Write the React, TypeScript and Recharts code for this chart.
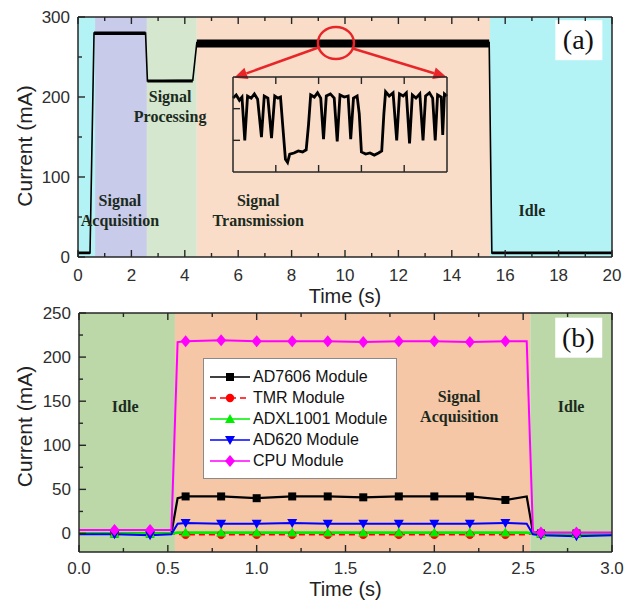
import React from 'react';
import {
  ComposedChart,
  LineChart,
  Line,
  Area,
  XAxis,
  YAxis,
  ReferenceArea,
  ReferenceDot,
  ReferenceLine,
  Legend,
} from 'recharts';

// ---------- panel (a): supply current of the node over one cycle ----------
// null = break between two levels (the trace jumps, the ripple band does not)
const aTime = [0, 0.45, 0.5, 0.6, 2.53, 2.56, 2.6, 4.3, 4.4, 4.45, 15.4, 15.45, 15.5, 20];
const aCurrent = [5, 5, null, 280, 280, null, 220, 221, null, 268, 268, null, 5, 5];
const aRippleLow = [3.5, 3.5, null, 277.5, 277.5, null, 218, 218, null, 262, 262, null, 3.5, 3.5];
const aRippleHigh = [7, 7, null, 282, 282, null, 222, 222, null, 272, 272, null, 7, 7];

const aPhaseStart = [0, 0.64, 2.58, 4.45, 15.43];
const aPhaseEnd = [0.64, 2.58, 4.45, 15.43, 20];

const aPhaseText = [
  { t: 1.57, i: 58, lines: ['Signal', 'Acquisition'] },
  { t: 3.45, i: 187, lines: ['Signal', 'Processing'] },
  { t: 6.75, i: 58, lines: ['Signal', 'Transmission'] },
  { t: 17.0, i: 58, lines: ['Idle'] },
];

const aXTicks = [0, 1, 2, 3, 4, 5, 6, 7, 8, 9, 10, 11, 12, 13, 14, 15, 16, 17, 18, 19, 20];
const aYTicks = [0, 50, 100, 150, 200, 250, 300];
const rightTicks = [1, 2, 3, 4, 5, 6, 7, 8, 9];

// zoomed view of the transmission ripple (arbitrary units)
const insetX = [
  0, 1.5, 3, 4.2, 5.5, 6.8, 8.5, 10, 11.5, 13.3, 14.6, 16.3, 18, 19.5, 21, 22.2, 23.2, 24.5, 25.5,
  26.5, 28.5, 30.5, 32.5, 34.2, 35.3, 36.3, 38, 39.5, 41, 42.3, 43.6, 45.5, 47.3, 48.7, 50, 52, 53.8,
  55, 56.3, 58, 59, 60, 62, 64, 66, 68, 69.5, 70.5, 71.3, 73, 74.8, 76.5, 77.8, 79.5, 81, 82.5, 83.8,
  85.5, 87.3, 88.8, 90, 91.8, 93.3, 94.5, 95.6, 97.3, 98, 98.8, 100,
];
const insetY = [
  70, 73, 68, 71, 30, 72, 70, 74, 69, 33, 72, 70, 32, 72, 70, 71, 45, 12, 9,
  17, 18, 20, 19, 21, 45, 73, 71, 75, 70, 31, 72, 74, 70, 29, 73, 71, 72,
  31, 70, 72, 55, 19, 17, 18, 16, 18, 20, 55, 76, 72, 75, 30, 74, 72, 75, 27, 73,
  70, 74, 30, 72, 75, 70, 30, 73, 71, 35, 74, 72,
];
const insetXTicks = [20, 40, 60, 80];
const insetLeftTicks = [30, 60];
const insetRightTicks = [10, 20, 30, 40, 50, 60, 70, 80];

// ---------- panel (b): current of each module ----------
const bTime = [0, 0.2, 0.4, 0.52, 0.555, 0.6, 0.8, 1.0, 1.2, 1.4, 1.6, 1.8, 2.0, 2.2, 2.4, 2.52, 2.555, 2.6, 2.8, 3.0];
const ad7606 = [0, 0, 0, 0, 40, 42, 42, 40, 42, 42, 41, 42, 42, 42, 38, 42, 1, 0, 0, 0];
const tmr = [0, 0, 0, 0, -1, -1.5, -1.5, -1.5, -1.5, -1.5, -1.5, -1.5, -1.5, -1.5, -1.5, -1.5, 0, 0, 0, 0];
const adxl1001 = [0, 0, 0, 0, 1, 1, 1, 1, 1, 1, 1, 1, 1, 1, 1, 1, 0, 0, 0, 0];
const ad620 = [-1, -1, -2, -1, 11, 12, 11, 11, 12, 11, 11, 11, 11, 11, 12, 11, -1, -2, -3, -2];
const cpu = [4, 4, 4, 4, 217, 218, 219, 218, 218, 218, 217, 218, 218, 217, 218, 218, 2, 1, 1, 1];
const bMarkerTimes = [0.2, 0.4, 0.6, 0.8, 1.0, 1.2, 1.4, 1.6, 1.8, 2.0, 2.2, 2.4, 2.6, 2.8];

const bSeries = [
  { key: 'ad7606', name: 'AD7606 Module', values: ad7606 },
  { key: 'tmr', name: 'TMR Module', values: tmr },
  { key: 'adxl', name: 'ADXL1001 Module', values: adxl1001 },
  { key: 'ad620', name: 'AD620 Module', values: ad620 },
  { key: 'cpu', name: 'CPU Module', values: cpu },
];

const bPhaseStart = [0, 0.54, 2.54];
const bPhaseEnd = [0.54, 2.54, 3];

const bPhaseText = [
  { t: 0.26, i: 143.5, lines: ['Idle'] },
  { t: 2.14, i: 143.5, lines: ['Signal', 'Acquisition'] },
  { t: 2.77, i: 143.5, lines: ['Idle'] },
];

const bXTicks = [0, 0.25, 0.5, 0.75, 1, 1.25, 1.5, 1.75, 2, 2.25, 2.5, 2.75, 3];
const bYTicks = [0, 25, 50, 75, 100, 125, 150, 175, 200, 225, 250];

// ---------- styles ----------
const AX = '#262626';
const RED = '#e8262a';
const SANS = '"Liberation Sans", Arial, sans-serif';
const SERIF = '"Liberation Serif", "Times New Roman", serif';
const aPhaseFill = ['#b3f3f6', '#c8cbe9', '#d5e7ce', '#f9ddc8', '#b3f3f6'];
const bPhaseFill = ['#bcd7a8', '#f6c7a7', '#bcd7a8'];
const bStyle: Record<string, { color: string; shape: string; dash?: string; width: number }> = {
  ad7606: { color: '#000000', shape: 'square', width: 2.2 },
  tmr: { color: '#ff0000', shape: 'circle', dash: '6 4', width: 1.5 },
  adxl: { color: '#00ee00', shape: 'up', width: 2.6 },
  ad620: { color: '#0000ff', shape: 'down', width: 2 },
  cpu: { color: '#ff00ff', shape: 'diamond', width: 2 },
};

const tickText = { fontFamily: SANS, fontSize: 17, fill: '#2e2e2e' };
const axisLine = { stroke: AX, strokeWidth: 1.5 };

const bottomTick = (isMajor: (v: number) => boolean, fmt: ((v: number) => string) | null, gap: number) =>
  (p: any) => {
    const v = p.payload.value;
    const major = isMajor(v);
    return (
      <g key={`bt-${v}`}>
        <line x1={p.x} x2={p.x} y1={p.y} y2={p.y - (major ? 7 : 4)} stroke={AX} strokeWidth={1.4} />
        {fmt && major && (
          <text x={p.x} y={p.y + gap} textAnchor="middle" {...tickText}>
            {fmt(v)}
          </text>
        )}
      </g>
    );
  };

const topTick = (isMajor: (v: number) => boolean) => (p: any) => {
  const v = p.payload.value;
  return (
    <line key={`tt-${v}`} x1={p.x} x2={p.x} y1={p.y} y2={p.y + (isMajor(v) ? 7 : 4)} stroke={AX} strokeWidth={1.4} />
  );
};

const leftTick = (isMajor: (v: number) => boolean, showLabel: boolean) => (p: any) => {
  const v = p.payload.value;
  const major = isMajor(v);
  return (
    <g key={`lt-${v}`}>
      <line x1={p.x} x2={p.x + (major ? 7 : 4)} y1={p.y} y2={p.y} stroke={AX} strokeWidth={1.4} />
      {showLabel && major && (
        <text x={p.x - 8} y={p.y + 6} textAnchor="end" {...tickText}>
          {v}
        </text>
      )}
    </g>
  );
};

const rightTick = (isMajor: (v: number) => boolean) => (p: any) => {
  const v = p.payload.value;
  return (
    <line key={`rt-${v}`} x1={p.x} x2={p.x - (isMajor(v) ? 6 : 4)} y1={p.y} y2={p.y} stroke={AX} strokeWidth={1.4} />
  );
};

const xTitle = (dy: number) => (p: any) => (
  <text
    x={p.viewBox.x + p.viewBox.width / 2}
    y={p.viewBox.y + dy}
    textAnchor="middle"
    fontFamily={SANS}
    fontSize={20}
    fill="#222"
  >
    Time (s)
  </text>
);

const yTitle = (shift: number) => (p: any) => {
  const cy = p.viewBox.y + p.viewBox.height / 2 + shift;
  return (
    <text
      x={24}
      y={cy}
      transform={`rotate(-90 24 ${cy})`}
      textAnchor="middle"
      dominantBaseline="central"
      fontFamily={SANS}
      fontSize={21}
      fill="#222"
    >
      Current (mA)
    </text>
  );
};

const phaseText = (lines: string[]) => (p: any) => (
  <text textAnchor="middle" fontFamily={SERIF} fontWeight="bold" fontSize={16} fill="#1b2a1d">
    {lines.map((l, k) => (
      <tspan key={k} x={p.cx} y={p.cy + (k - (lines.length - 1) / 2) * 20 + 5}>
        {l}
      </tspan>
    ))}
  </text>
);

const panelTag = (tag: string) => (p: any) => (
  <g>
    <rect x={p.cx - 23} y={p.cy - 20} width={47} height={40} fill="#ffffff" />
    <text x={p.cx} y={p.cy + 9} textAnchor="middle" fontFamily={SERIF} fontSize={28} fill="#111">
      {tag}
    </text>
  </g>
);

const zoomRing = (p: any) => <ellipse cx={p.cx} cy={p.cy} rx={18} ry={16} fill="none" stroke={RED} strokeWidth={2.5} />;

const arrowShape = (p: any) => {
  const { x1, y1, x2, y2 } = p;
  const a = Math.atan2(y2 - y1, x2 - x1);
  const bx = x2 - 13 * Math.cos(a);
  const by = y2 - 13 * Math.sin(a);
  const nx = -Math.sin(a) * 6;
  const ny = Math.cos(a) * 6;
  return (
    <g>
      <line x1={x1} y1={y1} x2={bx} y2={by} stroke={RED} strokeWidth={2.5} />
      <path d={`M${x2},${y2} L${bx + nx},${by + ny} L${bx - nx},${by - ny} Z`} fill={RED} />
    </g>
  );
};

const Marker = ({ shape, cx, cy, color }: { shape: string; cx: number; cy: number; color: string }) => {
  if (shape === 'square') return <rect x={cx - 4} y={cy - 4} width={8} height={8} fill={color} />;
  if (shape === 'circle') return <circle cx={cx} cy={cy} r={4.2} fill={color} />;
  if (shape === 'up') return <path d={`M${cx},${cy - 5} L${cx + 5},${cy + 4} L${cx - 5},${cy + 4} Z`} fill={color} />;
  if (shape === 'down') return <path d={`M${cx},${cy + 5} L${cx + 5},${cy - 4} L${cx - 5},${cy - 4} Z`} fill={color} />;
  return <path d={`M${cx},${cy - 6} L${cx + 5},${cy} L${cx},${cy + 6} L${cx - 5},${cy} Z`} fill={color} />;
};

const markerDot = (key: string) => (p: any) => {
  const st = bStyle[key];
  const on = bMarkerTimes.some((m) => Math.abs(m - p.payload.t) < 1e-6);
  if (!on) return <g key={`${key}-${p.index}`} />;
  return (
    <g key={`${key}-${p.index}`}>
      <Marker shape={st.shape} cx={p.cx} cy={p.cy} color={st.color} />
    </g>
  );
};

// legend keeps the plotting order of the series
const renderLegend = () => (
  <div
    style={{
      width: 194,
      height: 121,
      boxSizing: 'border-box',
      background: '#fff',
      border: '1px solid #8a8a8a',
      paddingTop: 8,
      fontFamily: SANS,
      fontSize: 16,
      color: '#111',
    }}
  >
    {bSeries.map((s) => {
      const st = bStyle[s.key];
      return (
        <div key={s.key} style={{ display: 'flex', alignItems: 'center', height: 20.8 }}>
          <svg width={43} height={14} style={{ marginLeft: 6 }}>
            <line x1={0} x2={40} y1={7} y2={7} stroke={st.color} strokeWidth={1.5} strokeDasharray={st.dash} />
            <Marker shape={st.shape} cx={20} cy={7} color={st.color} />
          </svg>
          <span style={{ lineHeight: '20px' }}>{s.name}</span>
        </div>
      );
    })}
  </div>
);

const aRows = aTime.map((t, k) => ({
  t,
  current: aCurrent[k],
  ripple: aRippleLow[k] == null ? null : [aRippleLow[k], aRippleHigh[k]],
}));

const insetRows = insetX.map((x, k) => ({ x, v: insetY[k] }));

const bRows = bTime.map((t, k) => {
  const row: Record<string, number> = { t };
  bSeries.forEach((s) => {
    row[s.key] = s.values[k];
  });
  return row;
});

const even = (v: number) => v % 2 === 0;
const hundred = (v: number) => v % 100 === 0;
const halfStep = (v: number) => Math.abs(v * 2 - Math.round(v * 2)) < 1e-6;
const fifty = (v: number) => v % 50 === 0;
const odd = (v: number) => v % 2 === 1;
const always = () => true;

export default function App() {
  return (
    <div style={{ position: 'absolute', left: 0, top: 0, width: 628, height: 603, background: '#fff' }}>
      {/* (a) */}
      <div style={{ position: 'absolute', left: 0, top: 0, width: 628, height: 312 }}>
        <ComposedChart width={628} height={312} data={aRows} margin={{ top: 16, right: 15, bottom: 0, left: 0 }}>
          {aPhaseStart.map((s, k) => (
            <ReferenceArea key={`pa-${k}`} x1={s} x2={aPhaseEnd[k]} fill={aPhaseFill[k]} fillOpacity={1} stroke="none" />
          ))}
          <Area
            dataKey="ripple"
            stroke="none"
            fill="#000"
            fillOpacity={1}
            isAnimationActive={false}
            activeDot={false}
            dot={false}
          />
          <Line
            dataKey="current"
            stroke="#000"
            strokeWidth={1.6}
            dot={false}
            connectNulls
            isAnimationActive={false}
          />
          {aPhaseText.map((p, k) => (
            <ReferenceDot key={`ta-${k}`} x={p.t} y={p.i} r={0} shape={phaseText(p.lines)} />
          ))}
          <ReferenceDot x={9.66} y={267.5} r={0} shape={zoomRing} />
          <ReferenceLine segment={[{ x: 9.06, y: 262.5 }, { x: 5.85, y: 224 }]} shape={arrowShape} />
          <ReferenceLine segment={[{ x: 10.26, y: 261 }, { x: 13.8, y: 225 }]} shape={arrowShape} />
          <ReferenceDot x={18.74} y={271} r={0} shape={panelTag('(a)')} />
          <XAxis
            xAxisId="top"
            orientation="top"
            type="number"
            dataKey="t"
            domain={[0, 20]}
            ticks={aXTicks}
            interval={0}
            height={1}
            tickSize={0}
            tickMargin={0}
            tick={topTick(even)}
            axisLine={axisLine}
            tickLine={false}
          />
          <XAxis
            type="number"
            dataKey="t"
            domain={[0, 20]}
            ticks={aXTicks}
            interval={0}
            height={55}
            tickSize={0}
            tickMargin={0}
            tick={bottomTick(even, (v) => String(v), 24)}
            axisLine={axisLine}
            tickLine={false}
            label={xTitle(46)}
          />
          <YAxis
            domain={[0, 300]}
            ticks={aYTicks}
            interval={0}
            width={78}
            tickSize={0}
            tickMargin={0}
            tick={leftTick(hundred, true)}
            axisLine={axisLine}
            tickLine={false}
            label={yTitle(9)}
          />
          <YAxis
            yAxisId="r"
            orientation="right"
            domain={[0, 10]}
            ticks={rightTicks}
            interval={0}
            width={1}
            tickSize={0}
            tickMargin={0}
            tick={rightTick(odd)}
            axisLine={axisLine}
            tickLine={false}
          />
        </ComposedChart>
        <div style={{ position: 'absolute', left: 232, top: 76 }}>
          <LineChart width={216} height={97} data={insetRows} margin={{ top: 0, right: 0, bottom: 0, left: 0 }}>
            <Line dataKey="v" stroke="#000" strokeWidth={2.8} dot={false} isAnimationActive={false} />
            <XAxis
              xAxisId="top"
              orientation="top"
              type="number"
              dataKey="x"
              domain={[0, 100]}
              ticks={insetXTicks}
              interval={0}
              height={1}
              tickSize={0}
              tickMargin={0}
              tick={topTick(always)}
              axisLine={axisLine}
              tickLine={false}
            />
            <XAxis
              type="number"
              dataKey="x"
              domain={[0, 100]}
              ticks={insetXTicks}
              interval={0}
              height={1}
              tickSize={0}
              tickMargin={0}
              tick={bottomTick(always, null, 0)}
              axisLine={axisLine}
              tickLine={false}
            />
            <YAxis
              domain={[0, 90]}
              ticks={insetLeftTicks}
              interval={0}
              width={1}
              tickSize={0}
              tickMargin={0}
              tick={leftTick(always, false)}
              axisLine={axisLine}
              tickLine={false}
            />
            <YAxis
              yAxisId="r"
              orientation="right"
              domain={[0, 90]}
              ticks={insetRightTicks}
              interval={0}
              width={1}
              tickSize={0}
              tickMargin={0}
              tick={rightTick(() => false)}
              axisLine={axisLine}
              tickLine={false}
            />
          </LineChart>
        </div>
      </div>

      {/* (b) */}
      <div style={{ position: 'absolute', left: 0, top: 300, width: 628, height: 303 }}>
        <ComposedChart width={628} height={303} data={bRows} margin={{ top: 12, right: 15, bottom: 0, left: 0 }}>
          {bPhaseStart.map((s, k) => (
            <ReferenceArea key={`pb-${k}`} x1={s} x2={bPhaseEnd[k]} fill={bPhaseFill[k]} fillOpacity={1} stroke="none" />
          ))}
          {bSeries.map((s) => (
            <Line
              key={s.key}
              dataKey={s.key}
              name={s.name}
              stroke={bStyle[s.key].color}
              strokeWidth={bStyle[s.key].width}
              strokeDasharray={bStyle[s.key].dash}
              dot={markerDot(s.key)}
              activeDot={false}
              isAnimationActive={false}
            />
          ))}
          {bPhaseText.map((p, k) => (
            <ReferenceDot key={`tb-${k}`} x={p.t} y={p.i} r={0} shape={phaseText(p.lines)} />
          ))}
          <ReferenceDot x={2.81} y={222} r={0} shape={panelTag('(b)')} />
          <Legend
            layout="vertical"
            align="center"
            verticalAlign="middle"
            wrapperStyle={{ left: 203, top: 58, width: 194, height: 121 }}
            content={renderLegend}
          />
          <XAxis
            xAxisId="top"
            orientation="top"
            type="number"
            dataKey="t"
            domain={[0, 3]}
            ticks={bXTicks}
            interval={0}
            height={1}
            tickSize={0}
            tickMargin={0}
            tick={topTick(halfStep)}
            axisLine={axisLine}
            tickLine={false}
          />
          <XAxis
            type="number"
            dataKey="t"
            domain={[0, 3]}
            ticks={bXTicks}
            interval={0}
            height={51}
            tickSize={0}
            tickMargin={0}
            tick={bottomTick(halfStep, (v) => v.toFixed(1), 22)}
            axisLine={axisLine}
            tickLine={false}
            label={xTitle(44)}
          />
          <YAxis
            domain={[-21, 250]}
            ticks={bYTicks}
            interval={0}
            width={79}
            tickSize={0}
            tickMargin={0}
            tick={leftTick(fifty, true)}
            axisLine={axisLine}
            tickLine={false}
            label={yTitle(-6)}
          />
          <YAxis
            yAxisId="r"
            orientation="right"
            domain={[0, 10]}
            ticks={rightTicks}
            interval={0}
            width={1}
            tickSize={0}
            tickMargin={0}
            tick={rightTick(odd)}
            axisLine={axisLine}
            tickLine={false}
          />
        </ComposedChart>
      </div>
    </div>
  );
}
